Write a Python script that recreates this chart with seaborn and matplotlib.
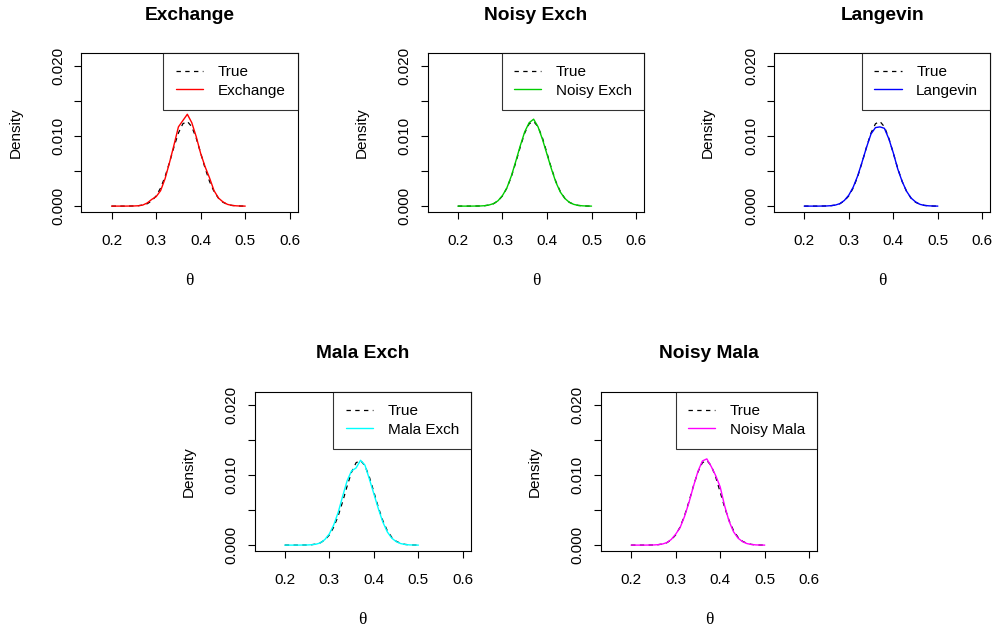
import numpy as np
import pandas as pd
import matplotlib
matplotlib.use("Agg")
import matplotlib.pyplot as plt
import seaborn as sns

sns.set_style("white")
plt.rcParams['font.family'] = ['Liberation Sans', 'DejaVu Sans']
plt.rcParams['text.color'] = 'black'
plt.rcParams['axes.labelcolor'] = 'black'
plt.rcParams['xtick.color'] = 'black'
plt.rcParams['ytick.color'] = 'black'

# theta grid (0.20 .. 0.50, step 0.01)
theta = [0.20, 0.21, 0.22, 0.23, 0.24, 0.25, 0.26, 0.27, 0.28, 0.29, 0.30,
         0.31, 0.32, 0.33, 0.34, 0.35, 0.36, 0.37, 0.38, 0.39, 0.40,
         0.41, 0.42, 0.43, 0.44, 0.45, 0.46, 0.47, 0.48, 0.49, 0.50]

# densities, in units of 1e-3
true_dens = [0, 0, 0, 0, 0.01, 0.02, 0.06, 0.15, 0.34, 0.74, 1.45,
             2.58, 4.20, 6.23, 8.44, 10.43, 11.75, 12.08, 11.32, 9.69, 7.56,
             5.38, 3.50, 2.07, 1.12, 0.55, 0.25, 0.10, 0.04, 0.01, 0]
exchange = [0, 0, 0, 0, 0.01, 0.02, 0.05, 0.15, 0.45, 0.95, 1.35,
            2.2, 3.9, 6.2, 8.7, 11.3, 12.2, 13.1, 11.9, 9.9, 7.5,
            5.6, 4.0, 2.2, 1.15, 0.6, 0.25, 0.1, 0.04, 0.01, 0]
noisy_exch = [0, 0, 0, 0, 0.01, 0.02, 0.06, 0.16, 0.36, 0.76, 1.5,
              2.6, 4.3, 6.4, 8.6, 10.6, 11.9, 12.4, 11.3, 9.5, 7.4,
              5.3, 3.4, 2.0, 1.1, 0.55, 0.25, 0.1, 0.04, 0.01, 0]
langevin = [0, 0, 0, 0, 0.01, 0.02, 0.06, 0.15, 0.35, 0.8, 1.55,
            2.7, 4.3, 6.3, 8.4, 10.3, 11.2, 11.3, 11.1, 9.6, 7.6,
            5.3, 3.5, 2.1, 1.15, 0.6, 0.25, 0.1, 0.04, 0.01, 0]
mala_exch = [0, 0, 0, 0, 0.01, 0.02, 0.05, 0.13, 0.32, 0.8, 1.6,
             2.9, 4.7, 7.0, 9.2, 10.6, 11.0, 12.1, 11.4, 9.4, 7.3,
             5.2, 3.3, 1.9, 1.0, 0.5, 0.22, 0.09, 0.03, 0.01, 0]
noisy_mala = [0, 0, 0, 0, 0.01, 0.02, 0.06, 0.15, 0.35, 0.8, 1.55,
              2.5, 4.1, 6.1, 8.4, 10.5, 12.0, 12.3, 11.2, 9.9, 8.3,
              5.6, 3.4, 1.9, 1.0, 0.5, 0.22, 0.09, 0.03, 0.01, 0]

methods = ['Exchange', 'Noisy Exch', 'Langevin', 'Mala Exch', 'Noisy Mala']
series = [exchange, noisy_exch, langevin, mala_exch, noisy_mala]
colors = ['#FF0000', '#00CD00', '#0000FF', '#00FFFF', '#FF00FF']

W, H = 997, 628
fig = plt.figure(figsize=(W / 100, H / 100), dpi=100)

# panel boxes in pixels: left, top
boxes = [(81.3, 53), (427.6, 53), (773.9, 53), (254.5, 392), (600.8, 392)]
bw, bh = 216.5, 159
fs = 11

for name, vals, col, (bx, by) in zip(methods, series, colors, boxes):
    ax = fig.add_axes([bx / W, 1 - (by + bh) / H, bw / W, bh / H])
    df = pd.DataFrame({'theta': theta,
                       'true': np.array(true_dens) / 1000,
                       'est': np.array(vals) / 1000})
    sns.lineplot(data=df, x='theta', y='true', ax=ax, color='black',
                 linewidth=0.9, label='True')
    ax.lines[-1].set_dashes((3.5, 3.5))
    sns.lineplot(data=df, x='theta', y='est', ax=ax, color=col,
                 linewidth=1.0, label=name)

    ax.set_xlim(0.132, 0.618)
    ax.set_ylim(-0.00084, 0.02184)
    ax.set_xticks([0.2, 0.3, 0.4, 0.5, 0.6])
    ax.set_xticklabels(['0.2', '0.3', '0.4', '0.5', '0.6'])
    ax.set_yticks([0.0, 0.005, 0.010, 0.015, 0.020])
    ax.set_yticklabels(['0.000', '', '0.010', '', '0.020'],
                       rotation=90, va='center')
    ax.tick_params(axis='both', direction='out', length=5, width=0.8,
                   labelsize=fs, colors='black', left=True, bottom=True)
    ax.tick_params(axis='x', pad=11)
    ax.tick_params(axis='y', pad=6.5)
    for s in ax.spines.values():
        s.set_visible(True)
        s.set_color('black')
        s.set_linewidth(0.8)
    ax.set_xlabel('')
    ax.set_ylabel('')

    leg = ax.legend(loc='upper right', bbox_to_anchor=(1, 1), borderaxespad=0,
                    fontsize=fs, frameon=True, fancybox=False,
                    handlelength=1.8, handletextpad=0.95, borderpad=0.8,
                    labelspacing=0.3)
    leg.get_frame().set_edgecolor('black')
    leg.get_frame().set_linewidth(0.8)
    leg.get_lines()[0].set_dashes((3.5, 3.5))

    cx = (bx + bw / 2) / W
    fig.text(cx, 1 - (by - 38) / H, name, ha='center', va='center',
             fontsize=13.8, fontweight='bold')
    fig.text(cx, 1 - (by + 228) / H, 'θ', ha='center', va='center',
             fontsize=12.5, family=['Liberation Serif', 'DejaVu Serif'])
    fig.text((bx - 66) / W, 1 - (by + bh / 2) / H, 'Density', ha='center',
             va='center', rotation=90, fontsize=fs)

fig.savefig('out.png', dpi=100)
